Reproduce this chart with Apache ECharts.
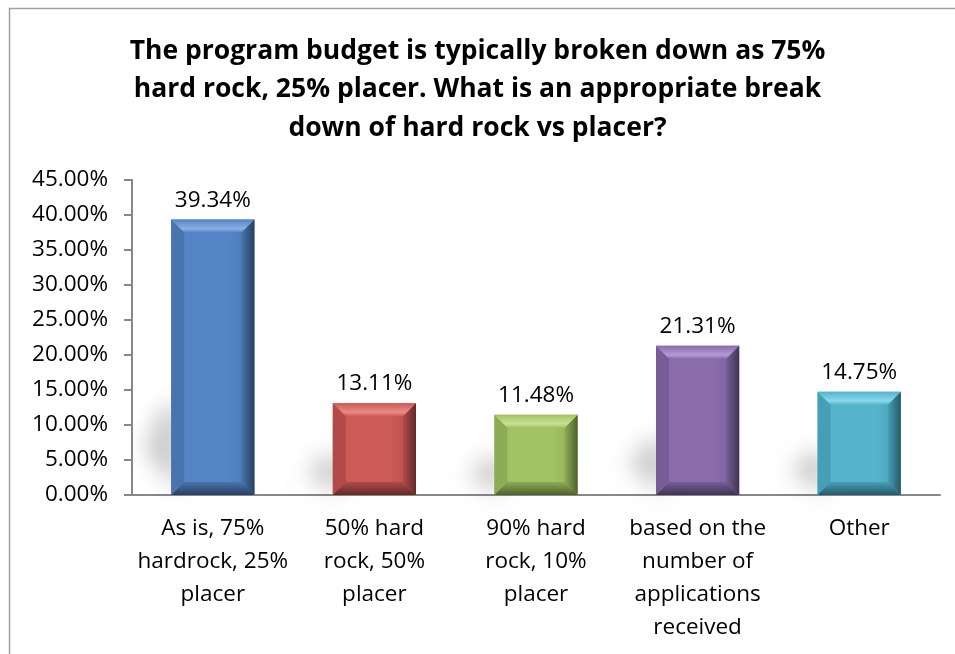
<!DOCTYPE html>
<html style="height: 100%">
<head>
<meta charset="utf-8">
<script src="https://cdn.jsdelivr.net/npm/echarts@6/dist/echarts.min.js"></script>
</head>
<body style="height: 100%; margin: 0; background: #fff">
<div id="container" style="width: 955px; height: 654px"></div>
<script type="text/javascript">
var categories = [
    'As is, 75%\nhardrock, 25%\nplacer',
    '50% hard\nrock, 50%\nplacer',
    '90% hard\nrock, 10%\nplacer',
    'based on the\nnumber of\napplications\nreceived',
    'Other'
];
var values = [39.34, 13.11, 11.48, 21.31, 14.75];
// face, light (top bevel), mid (left bevel), dark (right/bottom bevel)
var faceColors = ['#5585c6', '#cc5a57', '#a3c263', '#8a6cac', '#55b4cc'];
var lightColors = ['#8ab0e4', '#ea8a87', '#c9e196', '#b49bd4', '#8ad8ec'];
var midColors = ['#4a74ae', '#b14b49', '#8eac55', '#775d97', '#479fb6'];
var darkColors = ['#283f60', '#62292a', '#4e612c', '#413452', '#245969'];

var FONT = '"Open Sans", "Noto Sans", sans-serif';

var dom = document.getElementById('container');
var myChart = echarts.init(dom);

function renderBar(params, api) {
    var i = api.value(0);
    var top = api.coord([i, api.value(1)]);
    var base = api.coord([i, 0]);
    var w = api.size([1, 0])[0] * 0.515;
    var x0 = top[0] - w / 2, x1 = top[0] + w / 2;
    var y0 = top[1], y1 = base[1];
    var h = y1 - y0;
    var b = Math.min(13, h / 3);
    var sh = h * 0.27 + 14;
    var off = 3000;
    return {
        type: 'group',
        children: [
            {
                // soft floor shadow: the shape is drawn off screen, only its blur shows
                type: 'polygon',
                shape: { points: [[x0 + 8 + off, y1 - 2], [x0 - 26 + off, y1 - sh * 0.5], [x0 - 10 + off, y1 - sh], [x0 + 8 + off, y1 - sh]] },
                style: { fill: '#000', shadowBlur: 22, shadowOffsetX: -off, shadowColor: 'rgba(0,0,0,0.22)' },
                silent: true
            },
            {
                type: 'rect', shape: { x: x0, y: y0, width: w, height: h },
                style: {
                    fill: new echarts.graphic.LinearGradient(0, 0, 1, 0, [
                        { offset: 0, color: faceColors[i] },
                        { offset: 0.7, color: faceColors[i] },
                        { offset: 1, color: midColors[i] }
                    ])
                }
            },
            { type: 'polygon', shape: { points: [[x0, y0], [x0 + b, y0 + b], [x0 + b, y1 - b], [x0, y1]] }, style: { fill: midColors[i] } },
            {
                type: 'polygon', shape: { points: [[x0, y1], [x0 + b, y1 - b], [x1 - b, y1 - b], [x1, y1]] },
                style: {
                    fill: new echarts.graphic.LinearGradient(0, 0, 0, 1, [
                        { offset: 0, color: midColors[i] },
                        { offset: 1, color: darkColors[i] }
                    ])
                }
            },
            {
                type: 'polygon', shape: { points: [[x1, y0], [x1, y1], [x1 - b, y1 - b], [x1 - b, y0 + b]] },
                style: {
                    fill: new echarts.graphic.LinearGradient(0, 0, 1, 0, [
                        { offset: 0, color: midColors[i] },
                        { offset: 1, color: darkColors[i] }
                    ])
                }
            },
            {
                type: 'polygon',
                shape: { points: [[x0, y0], [x1, y0], [x1 - b, y0 + b], [x0 + b, y0 + b]] },
                style: {
                    fill: new echarts.graphic.LinearGradient(0, 0, 0, 1, [
                        { offset: 0, color: faceColors[i] },
                        { offset: 0.7, color: lightColors[i] },
                        { offset: 1, color: faceColors[i] }
                    ])
                }
            },
            {
                type: 'text',
                style: {
                    text: values[i].toFixed(2) + '%',
                    x: top[0], y: y0 - 8,
                    align: 'center', verticalAlign: 'bottom',
                    fill: '#000', font: '22.5px ' + FONT
                }
            }
        ]
    };
}

var option = {
    animation: false,
    title: {
        text: 'The program budget is typically broken down as 75%\nhard rock, 25% placer. What is an appropriate break\ndown of hard rock vs placer?',
        left: 'center',
        top: 27,
        textStyle: { fontFamily: FONT, fontWeight: 'bold', fontSize: 26.5, lineHeight: 38.5, color: '#000' }
    },
    graphic: [{
        type: 'rect',
        shape: { x: 9.5, y: 8.5, width: 1000, height: 700 },
        style: { fill: 'none', stroke: '#a0a0a0', lineWidth: 1.5 },
        silent: true
    }],
    grid: { left: 132, right: 15, top: 180, bottom: 159 },
    xAxis: {
        type: 'category',
        data: categories,
        axisLine: { lineStyle: { color: '#888', width: 2 } },
        axisTick: { length: 8, lineStyle: { color: '#888', width: 2 } },
        axisLabel: { color: '#000', fontFamily: FONT, fontSize: 22.5, lineHeight: 33, margin: 17, interval: 0 }
    },
    yAxis: {
        type: 'value',
        min: 0,
        max: 45,
        interval: 5,
        axisLine: { show: true, lineStyle: { color: '#888', width: 2 } },
        axisTick: { show: true, length: 8, lineStyle: { color: '#888', width: 2 } },
        splitLine: { show: false },
        axisLabel: {
            color: '#000', fontFamily: FONT, fontSize: 22.5, margin: 24,
            formatter: function (v) { return v.toFixed(2) + '%'; }
        }
    },
    series: [{
        type: 'custom',
        renderItem: renderBar,
        data: values.map(function (v, i) { return [i, v]; }),
        encode: { x: 0, y: 1 }
    }]
};

myChart.setOption(option);
</script>
</body>
</html>
